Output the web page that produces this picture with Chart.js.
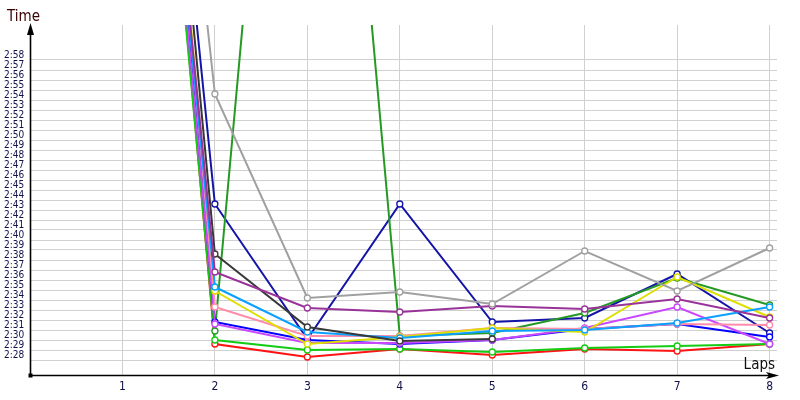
<!DOCTYPE html>
<html>
<head>
<meta charset="utf-8">
<script src="https://cdn.jsdelivr.net/npm/chart.js@4"></script>
<style>
html,body{margin:0;padding:0;background:#fff;}
#wrap{width:800px;height:400px;position:relative;}
</style>
</head>
<body>
<div id="wrap"><canvas id="c"></canvas></div>
<script>
// Lap numbers
const laps = [1, 2, 3, 4, 5, 6, 7, 8];
// Lap times in seconds (e.g. 149.6 = 2:29.6)
const red        = [252.8, 149.6, 148.3, 149.1, 148.5, 149.1, 148.9, 149.6];
const green      = [250.2, 150.0, 149.0, 149.1, 148.8, 149.2, 149.4, 149.6];
const forest     = [257.5, 150.9, 253.0, 150.4, 150.7, 152.7, 156.2, 153.5];
const violet     = [251.9, 151.6, 149.7, 149.7, 150.0, 151.2, 153.3, 149.6];
const blue       = [253.2, 151.8, 150.0, 149.6, 150.0, 151.1, 151.6, 150.3];
const pink       = [257.4, 153.3, 150.4, 150.4, 151.2, 151.1, 151.6, 151.5];
const yellow     = [257.2, 154.9, 149.6, 150.3, 151.2, 150.8, 156.3, 152.3];
const lightBlue  = [250.0, 155.3, 150.8, 150.2, 150.9, 151.0, 151.7, 153.3];
const purple     = [249.7, 156.8, 153.2, 152.8, 153.4, 153.1, 154.1, 152.2];
const darkGrey   = [256.9, 158.6, 151.3, 149.9, 150.1];
const navy       = [255.2, 163.6, 150.1, 163.6, 151.8, 152.2, 156.6, 150.7];
const grey       = [259.1, 174.6, 154.2, 154.8, 153.6, 158.9, 154.9, 159.2];
// Y tick values (2:28 .. 2:58)
const yTicks = [148,149,150,151,152,153,154,155,156,157,158,159,160,161,162,163,164,165,166,167,168,169,170,171,172,173,174,175,176,177,178];
const xTicks = [1, 2, 3, 4, 5, 6, 7, 8];

function fmt(v){
  const m = Math.floor(v/60), s = Math.round(v - m*60);
  return m + ':' + (s < 10 ? '0' : '') + s;
}

const series = [
  {d: grey,      c: '#a0a0a0'},
  {d: purple,    c: '#993399'},
  {d: darkGrey,  c: '#383838'},
  {d: lightBlue, c: '#0aa0ff'},
  {d: yellow,    c: '#dede00'},
  {d: pink,      c: '#ff8caa'},
  {d: violet,    c: '#c848ff'},
  {d: blue,      c: '#0000ff'},
  {d: forest,    c: '#249a24'},
  {d: navy,      c: '#1414a8'},
  {d: green,     c: '#14cc14'},
  {d: red,       c: '#ff1414'}
];

const datasets = series.map(s => ({
  data: s.d.map((v, i) => ({x: laps[i], y: v})),
  borderColor: s.c,
  backgroundColor: '#ffffff',
  pointBackgroundColor: '#ffffff',
  pointBorderColor: s.c,
  pointRadius: 3,
  pointBorderWidth: 1.3,
  borderWidth: 2,
  tension: 0,
  clip: 0
}));

const decor = {
  id: 'decor',
  afterDatasetsDraw(chart){
    const ctx = chart.ctx;
    const a = chart.chartArea;
    ctx.save();
    ctx.fillStyle = '#000';
    ctx.strokeStyle = '#000';
    ctx.lineWidth = 1.6;
    // y axis
    ctx.beginPath();
    ctx.moveTo(a.left + 0.5, a.bottom);
    ctx.lineTo(a.left + 0.5, a.top + 8);
    ctx.stroke();
    ctx.beginPath();
    ctx.moveTo(a.left + 0.5, a.top - 2);
    ctx.lineTo(a.left - 3, a.top + 10);
    ctx.lineTo(a.left + 4, a.top + 10);
    ctx.closePath();
    ctx.fill();
    // x axis
    ctx.beginPath();
    ctx.moveTo(a.left, a.bottom + 0.5);
    ctx.lineTo(a.right - 8, a.bottom + 0.5);
    ctx.stroke();
    ctx.beginPath();
    ctx.moveTo(a.right + 2, a.bottom + 0.5);
    ctx.lineTo(a.right - 11, a.bottom - 3);
    ctx.lineTo(a.right - 8, a.bottom + 0.5);
    ctx.lineTo(a.right - 11, a.bottom + 4);
    ctx.closePath();
    ctx.fill();
    // origin square
    ctx.fillRect(a.left - 1.5, a.bottom - 1.5, 4, 4);
    // titles
    ctx.font = '15px "DejaVu Sans Condensed", "DejaVu Sans", sans-serif';
    ctx.fillStyle = '#3a0000';
    ctx.textAlign = 'left';
    ctx.textBaseline = 'alphabetic';
    ctx.fillText('Time', 7, 21);
    ctx.fillStyle = '#101010';
    ctx.textAlign = 'right';
    ctx.fillText('Laps', 775, 369);
    ctx.restore();
  }
};

new Chart(document.getElementById('c'), {
  type: 'line',
  data: {datasets},
  options: {
    responsive: true,
    maintainAspectRatio: false,
    animation: false,
    events: [],
    layout: {padding: {left: 4, top: 25, right: 23, bottom: 0}},
    plugins: {legend: {display: false}, tooltip: {enabled: false}},
    scales: {
      x: {
        type: 'linear',
        min: 0,
        max: 8.08,
        afterFit(s){ s.height = 25; },
        afterBuildTicks(s){ s.ticks = xTicks.map(v => ({value: v})); },
        grid: {color: '#d0d0d0', lineWidth: 1, drawTicks: false},
        border: {display: false},
        ticks: {
          padding: 5,
          color: '#10104a',
          font: {family: '"DejaVu Sans Condensed", "DejaVu Sans", sans-serif', size: 12},
          callback: v => String(v),
          maxRotation: 0,
          autoSkip: false
        }
      },
      y: {
        type: 'linear',
        min: 146.5,
        max: 181.5,
        afterFit(s){ s.width = 26; },
        afterBuildTicks(s){ s.ticks = yTicks.map(v => ({value: v})); },
        grid: {color: '#d0d0d0', lineWidth: 1, drawTicks: false},
        border: {display: false},
        ticks: {
          padding: 0,
          crossAlign: 'far',
          labelOffset: -5,
          color: '#10104a',
          font: {family: '"DejaVu Sans Condensed", "DejaVu Sans", sans-serif', size: 10},
          callback: v => fmt(v),
          autoSkip: false
        }
      }
    }
  },
  plugins: [decor]
});
</script>
</body>
</html>
